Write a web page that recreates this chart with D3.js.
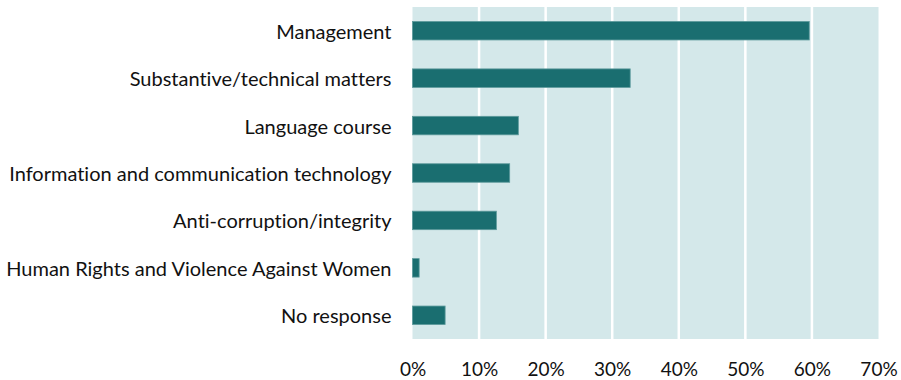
<!DOCTYPE html>
<html>
<head>
<meta charset="utf-8">
<script src="https://cdn.jsdelivr.net/npm/d3@7"></script>
<style>
body { margin: 0; background: #fff; }
text { font-family: Lato, "Open Sans", sans-serif; fill: #111; font-variant-ligatures: none; }
</style>
</head>
<body>
<div id="chart"></div>
<script>
// data
var categories = ["Management", "Substantive/technical matters", "Language course",
  "Information and communication technology", "Anti-corruption/integrity",
  "Human Rights and Violence Against Women", "No response"];
var values = [59.6, 32.7, 15.9, 14.6, 12.6, 1.0, 4.9];
var xTicks = [0, 10, 20, 30, 40, 50, 60, 70];

var svgWidth = 901, svgHeight = 380;
var margin = { top: 7, right: 22, bottom: 41, left: 412.5 };
var chartWidth = 466;
var chartHeight = svgHeight - margin.top - margin.bottom;

var svg = d3.select("#chart").append("svg")
  .attr("width", svgWidth)
  .attr("height", svgHeight);

var chartGroup = svg.append("g")
  .attr("transform", `translate(${margin.left}, ${margin.top})`);

var xScale = d3.scaleLinear().domain([0, 70]).range([0, chartWidth]);
var yScale = d3.scaleBand().domain(categories).range([0, chartHeight]).paddingInner(0.61).paddingOuter(0.305);

// background
chartGroup.append("rect")
  .attr("width", chartWidth)
  .attr("height", chartHeight)
  .attr("fill", "#d4e8ea");

// gridlines
chartGroup.selectAll("line.grid")
  .data(xTicks.slice(1, -1))
  .enter()
  .append("line")
  .attr("class", "grid")
  .attr("x1", d => xScale(d)).attr("x2", d => xScale(d))
  .attr("y1", 0).attr("y2", chartHeight)
  .attr("stroke", "#fff")
  .attr("stroke-width", 2.5);

// bars
chartGroup.selectAll("rect.bar")
  .data(values)
  .enter()
  .append("rect")
  .attr("class", "bar")
  .attr("x", 0)
  .attr("y", (d, i) => yScale(categories[i]))
  .attr("width", d => xScale(d))
  .attr("height", yScale.bandwidth())
  .attr("fill", "#1a6e70")
  .attr("stroke", "#5d9a9c")
  .attr("stroke-width", 0.8);

// x axis
var xAxis = d3.axisBottom(xScale).tickValues(xTicks).tickSize(0).tickPadding(24).tickFormat(d => d + "%");
var xg = chartGroup.append("g").attr("transform", `translate(0, ${chartHeight})`).call(xAxis);
xg.select(".domain").remove();
xg.selectAll("text").attr("font-size", "19px").style("font-family", 'Lato, "Open Sans", sans-serif').attr("fill", "#111");

// y axis
var yAxis = d3.axisLeft(yScale).tickSize(0).tickPadding(21);
var yg = chartGroup.append("g").call(yAxis);
yg.select(".domain").remove();
yg.selectAll("text").attr("font-size", "20px").attr("dy", "0.4em").style("font-family", 'Lato, "Open Sans", sans-serif').attr("fill", "#111");
</script>
</body>
</html>
